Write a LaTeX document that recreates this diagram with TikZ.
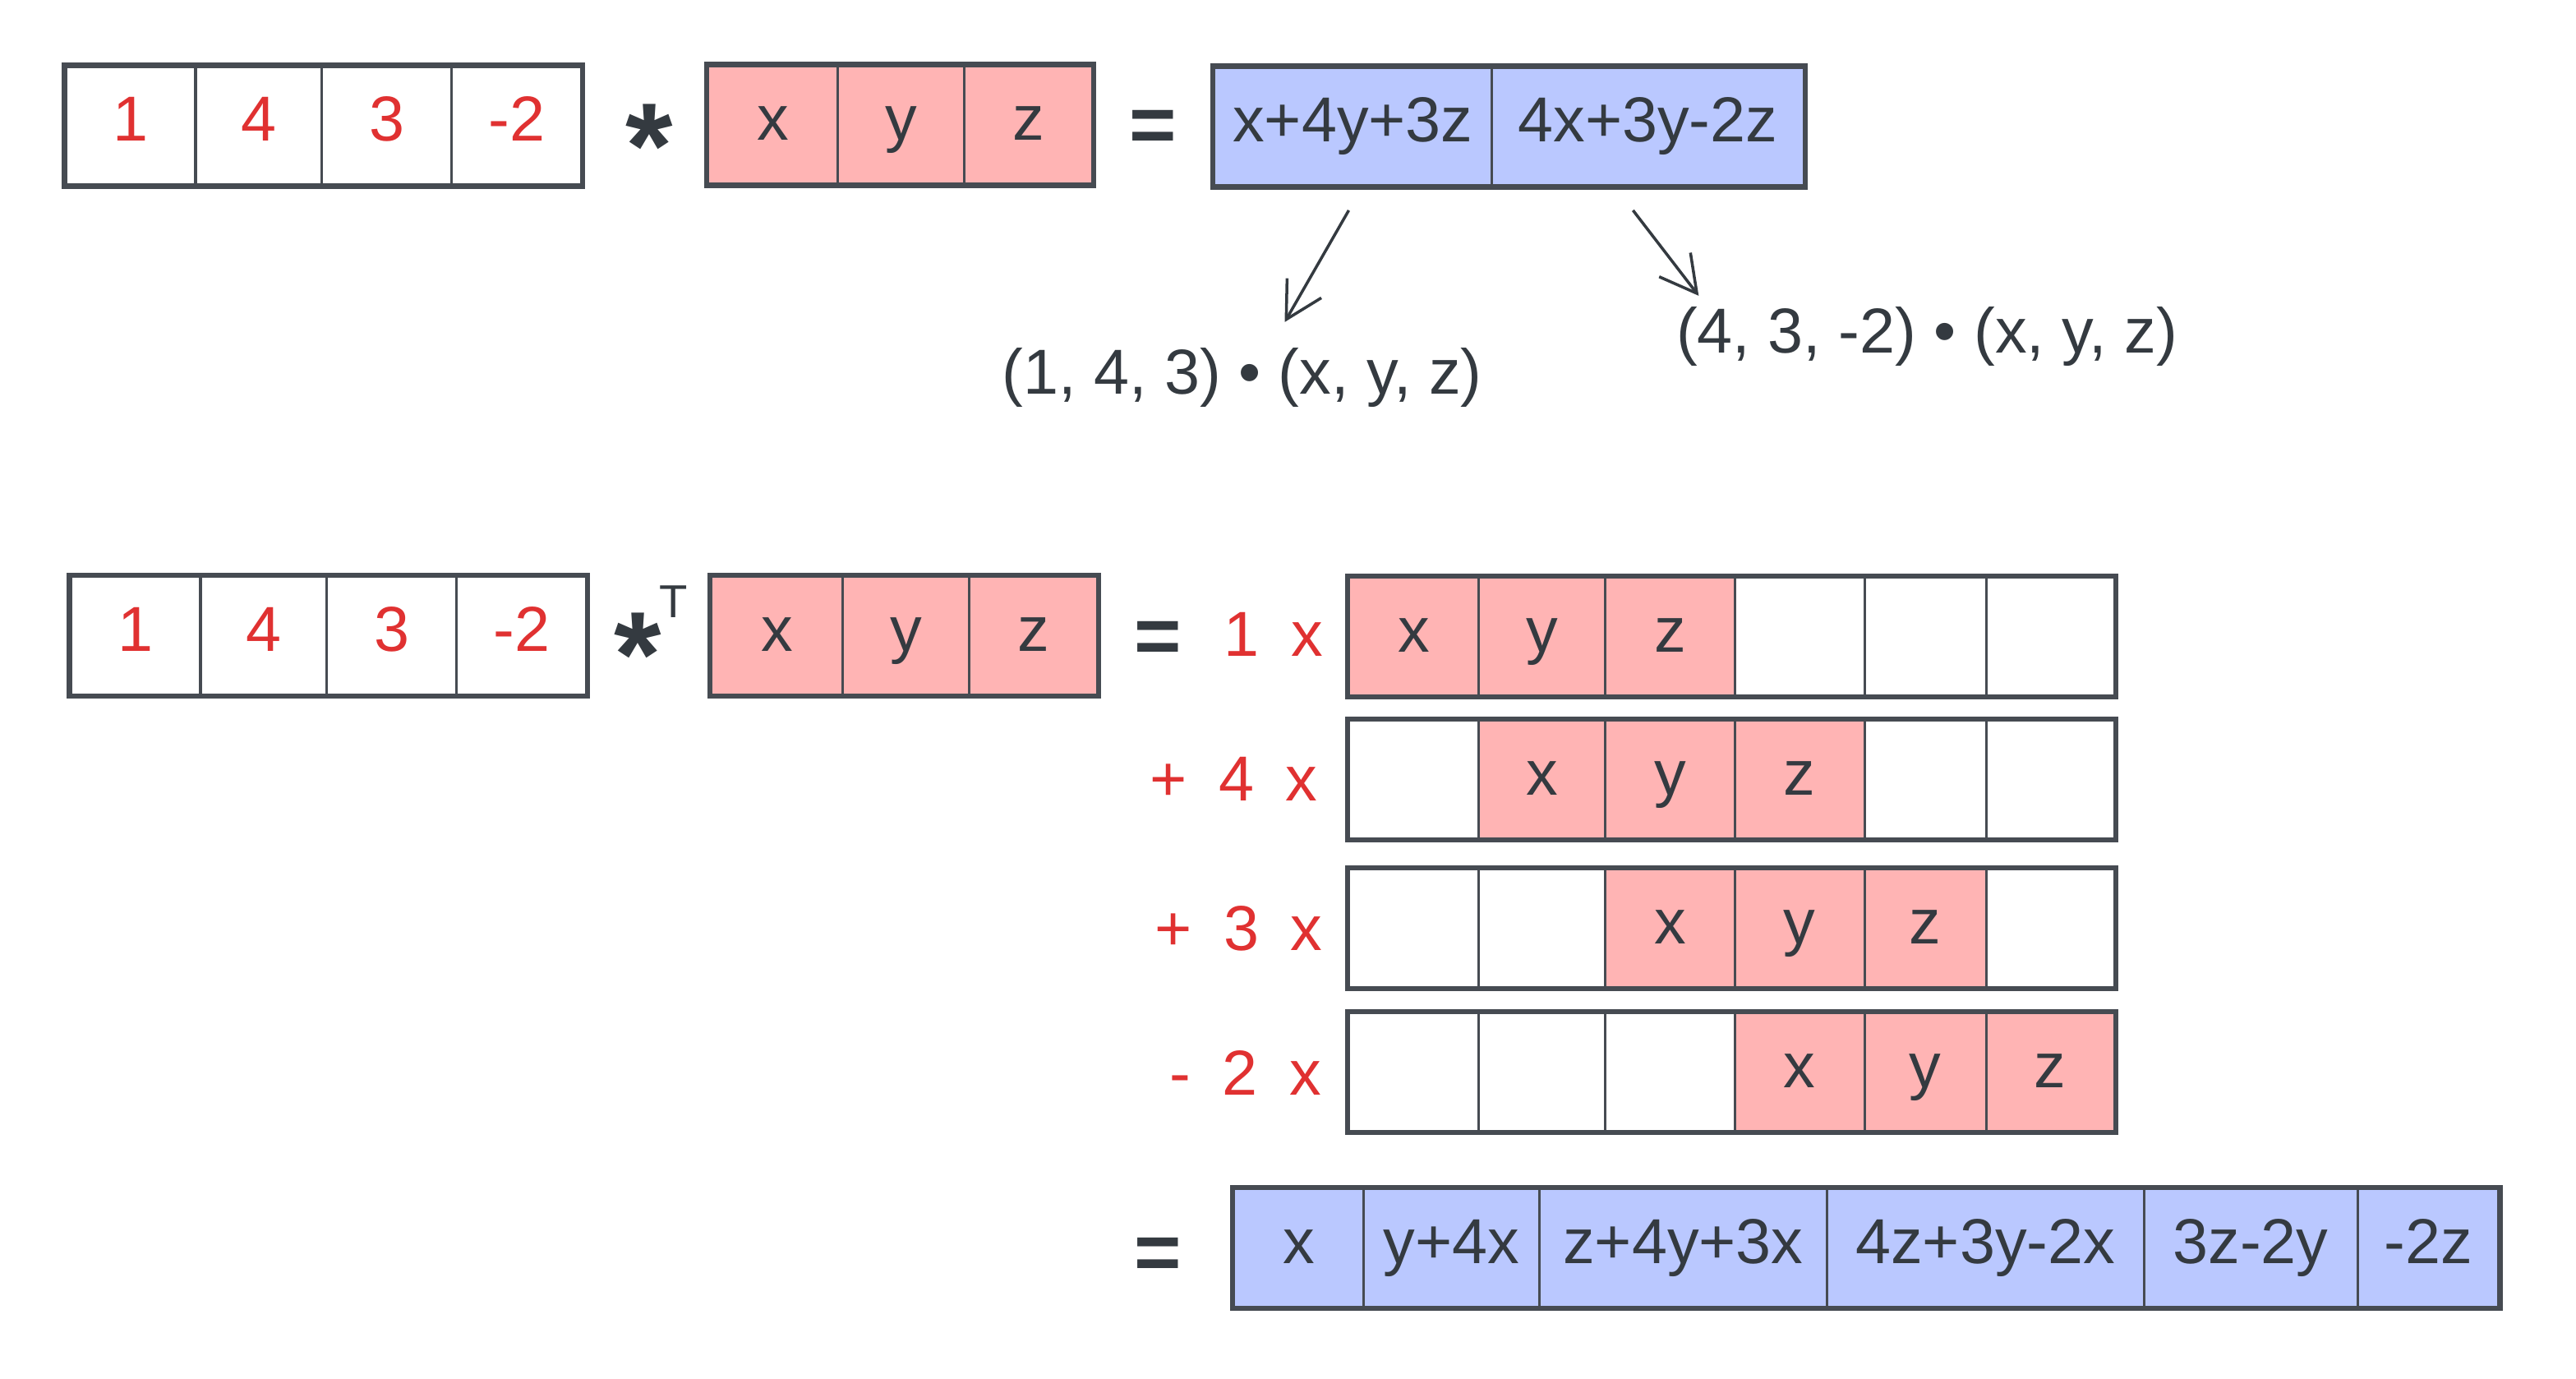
\documentclass[tikz,border=0pt]{standalone}
\usepackage{fontspec}
\setmainfont{Liberation Sans}
\usetikzlibrary{arrows.meta,positioning}
\definecolor{ink}{HTML}{343A40}
\definecolor{boxline}{HTML}{464B52}
\definecolor{rosefill}{HTML}{FFB4B4}
\definecolor{bluefill}{HTML}{BAC8FF}
\definecolor{coefred}{HTML}{E03131}

\tikzset{
  cell/.style={draw=boxline, line width=0.45pt, inner sep=0pt, minimum height=0.72cm,
    text height=0.66em, text depth=0.12em, text=ink, font=\fontsize{11}{13}\selectfont},
  rim/.style={draw=boxline, line width=0.85pt},
  coef/.style={text=coefred, inner sep=0pt, font=\fontsize{11}{13}\selectfont},
  op/.style={text=ink, inner sep=0pt, font=\fontsize{14}{14}\selectfont\bfseries},
  note/.style={text=ink, inner sep=0pt, font=\fontsize{11}{13}\selectfont},
  pointer/.style={draw=ink, line width=0.5pt, -{Straight Barb[length=2.2mm,width=2.4mm]}},
}
\newcommand{\starop}{\raisebox{-0.43em}[0.28em][0pt]{\makebox[0.32em]{*}}}

\begin{document}
\begin{tikzpicture}[x=0.01cm, y=-0.01cm]
\useasboundingbox (0,0) rectangle (1568,839);

% first line: plain product
\foreach \l/\r/\lab [count=\i] in {40/119/1,119/196/4,196/275/3,275/354/-2}
  \node[cell, text=coefred, minimum width={(\r-\l)*0.01cm}] (ta\i) at ({(\l+\r)/2},76.5) {\lab};
\draw[rim] (ta1.north west) rectangle (ta4.south east);
\node[op, font=\fontsize{21}{21}\selectfont\bfseries] (star1) at (395,72) {\starop};
\foreach \l/\r/\lab [count=\i] in {431/510/x,510/587/y,587/665/z}
  \node[cell, fill=rosefill, minimum width={(\r-\l)*0.01cm}] (tb\i) at ({(\l+\r)/2},76) {\lab};
\draw[rim] (tb1.north west) rectangle (tb3.south east);
\node[op] (eq1) at (702,80) {=};
\foreach \l/\r/\lab [count=\i] in {739/908/x+4y+3z,908/1098/4x+3y-2z}
  \node[cell, fill=bluefill, minimum width={(\r-\l)*0.01cm}] (tc\i) at ({(\l+\r)/2},77) {\lab};
\draw[rim] (tc1.north west) rectangle (tc2.south east);

% dot products
\node[note] (dot1) at (756,230) {(1, 4, 3) • (x, y, z)};
\node[note] (dot2) at (1173,205) {(4, 3, -2) • (x, y, z)};
\coordinate (from1) at (821,128);
\coordinate (to1) at (782,196);
\coordinate (from2) at (994,128);
\coordinate (to2) at (1034,180);
\draw[pointer] (from1) -- (to1);
\draw[pointer] (from2) -- (to2);

% second line: shifted copies
\foreach \l/\r/\lab [count=\i] in {43/122/1,122/199/4,199/278/3,278/357/-2}
  \node[cell, text=coefred, minimum width={(\r-\l)*0.01cm}] (ba\i) at ({(\l+\r)/2},387) {\lab};
\draw[rim] (ba1.north west) rectangle (ba4.south east);
\node[op, font=\fontsize{21}{21}\selectfont\bfseries] (star2) at (388,382) {\starop};
\node[note, font=\fontsize{8}{9}\selectfont] (tee) at (410,366) {T};
\foreach \l/\r/\lab [count=\i] in {433/513/x,513/590/y,590/668/z}
  \node[cell, fill=rosefill, minimum width={(\r-\l)*0.01cm}] (bb\i) at ({(\l+\r)/2},387) {\lab};
\draw[rim] (bb1.north west) rectangle (bb3.south east);
\node[op] (eq2) at (705,391) {=};

\node[coef] (k1) at (775,386) {1\enspace x};
\node[coef] (k2) at (751,474) {+\enspace 4\enspace x};
\node[coef] (k3) at (754,565) {+\enspace 3\enspace x};
\node[coef] (k4) at (758,653) {-\enspace 2\enspace x};

\foreach \row/\yc/\off in {1/387.5/0,2/474.5/1,3/565/2,4/652.5/3}
  \foreach \l/\r [count=\c] in {821/900,900/977,977/1056,1056/1135,1135/1209,1209/1287}{
    \pgfmathtruncatemacro\k{\c-\off}
    \ifnum\k<1 \def\tint{white}\def\sym{}\else
      \ifnum\k>3 \def\tint{white}\def\sym{}\else
        \def\tint{rosefill}\def\sym{\ifcase\k\or x\or y\or z\fi}\fi\fi
    \node[cell, fill=\tint, minimum width={(\r-\l)*0.01cm}] (r\row c\c) at ({(\l+\r)/2},\yc) {\sym};
  }
\foreach \row in {1,...,4}
  \draw[rim] (r\row c1.north west) rectangle (r\row c6.south east);

% sum
\node[op] (eq3) at (705,766) {=};
\foreach \l/\r/\lab [count=\i] in {751/830/x,830/937/y+4x,937/1112/z+4y+3x,1112/1305/4z+3y-2x,1305/1435/3z-2y,1435/1521/-2z}
  \node[cell, fill=bluefill, minimum width={(\r-\l)*0.01cm}] (s\i) at ({(\l+\r)/2},759.5) {\lab};
\draw[rim] (s1.north west) rectangle (s6.south east);
\end{tikzpicture}
\end{document}
